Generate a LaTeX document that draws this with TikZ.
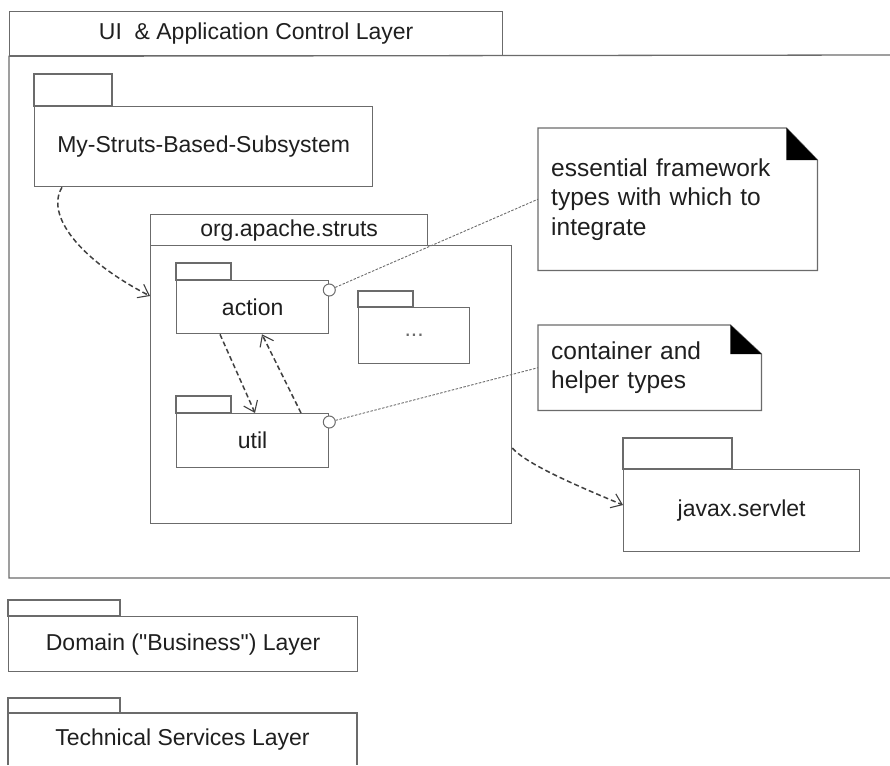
\documentclass[tikz,border=0pt]{standalone}
\usepackage{fontspec}
\setmainfont{Liberation Sans}
\newfontfamily\rawfont{Liberation Sans}
\usetikzlibrary{arrows.meta,calc}
\definecolor{lncol}{gray}{0.42}
\definecolor{txcol}{gray}{0.12}
\definecolor{depcol}{gray}{0.25}
\begin{document}
\begin{tikzpicture}[x=1pt,y=-1pt,
  ln/.style={draw=lncol, line width=1.3pt},
  pkg/.style={draw=lncol, line width=1.3pt, rectangle, inner sep=0pt, anchor=north west,
     text=txcol, font=\fontsize{23}{27.6}\selectfont},
  notebox/.style={rectangle, inner ysep=0pt, inner xsep=13pt, anchor=north west, align=left,
     text=txcol, font=\fontsize{24.5}{29.5}\selectfont},
  anchorcirc/.style={circle, draw=lncol, line width=1pt, fill=white, minimum size=12pt, inner sep=0pt},
  noteline/.style={draw=lncol, line width=0.9pt, dash pattern=on 2.5pt off 1.5pt},
  dep/.style={draw=depcol, line width=1.5pt, dash pattern=on 5pt off 3pt,
     -{Straight Barb[length=10pt,width=15pt,line width=1.1pt]}}
]
\useasboundingbox (0,0) rectangle (890,765);

% UI layer
\node[pkg, minimum width=493pt, minimum height=44pt] (uitab) at (9,11) {UI\ \ \& Application Control Layer};
\coordinate (uiBL) at (9,578);
\coordinate (uiBR) at (890,578);
\coordinate (uiTR) at (890,55);
\draw[ln] (uiTR) -- (uitab.south west) -- (uiBL) -- (uiBR);

% My-Struts-Based-Subsystem
\node[pkg, minimum width=338pt, minimum height=80pt] (mysb) at (34,106) {My-Struts-Based-Subsystem};
\draw[ln] (mysb.north west) rectangle ++(78,-32);

% org.apache.struts
\node[pkg, minimum width=277pt, minimum height=31pt] (oastab) at (150,214) {org.apache.struts};
\node[pkg, minimum width=361pt, minimum height=278pt] (oas) at (150,245) {};

% action
\node[pkg, minimum width=152pt, minimum height=53pt] (action) at (176,280) {action};
\draw[ln] (action.north west) rectangle ++(55,-17);

% ...
\node[pkg, minimum width=111pt, minimum height=56pt, text=lncol] (dots) at (358,307) {...};
\draw[ln] (dots.north west) rectangle ++(55,-16);

% util
\node[pkg, minimum width=152pt, minimum height=54pt] (util) at (176,413) {util};
\draw[ln] (util.north west) rectangle ++(55,-17);

% javax.servlet
\node[pkg, minimum width=236pt, minimum height=82pt] (javax) at (623,469) {javax.servlet};
\draw[ln] (javax.north west) rectangle ++(109,-31);

% Domain layer
\node[pkg, minimum width=349pt, minimum height=55pt] (domain) at (8,616) {\rawfont Domain ("Business") Layer};
\draw[ln] (domain.north west) rectangle ++(112,-16);

% Technical services layer (cut off at bottom)
\coordinate (tsBL) at (8,765);
\coordinate (tsTL) at (8,713);
\coordinate (tsTR) at (357,713);
\coordinate (tsBR) at (357,765);
\draw[ln] (tsBL) -- (tsTL) -- (tsTR) -- (tsBR);
\draw[ln] (tsTL) rectangle ++(112,-15);
\node[text=txcol, font=\fontsize{23}{27.6}\selectfont, inner sep=0pt] (tech) at (182.5,740) {Technical Services Layer};

% Notes
\node[notebox, minimum width=279pt, minimum height=142pt, text width=253pt] (note1) at (538,128)
  {essential framework\\types with which to\\integrate};
\draw[ln] (note1.north west) -- ([xshift=-31pt]note1.north east) -- ([yshift=-32pt]note1.north east)
  -- (note1.south east) -- (note1.south west) -- cycle;
\fill[black] ([xshift=-31pt]note1.north east) -- ([yshift=-32pt]note1.north east)
  -- ([xshift=-31pt,yshift=-32pt]note1.north east) -- cycle;

\node[notebox, minimum width=223pt, minimum height=85pt, text width=197pt] (note2) at (538,325)
  {container and\\helper types};
\draw[ln] (note2.north west) -- ([xshift=-31pt]note2.north east) -- ([yshift=-29pt]note2.north east)
  -- (note2.south east) -- (note2.south west) -- cycle;
\fill[black] ([xshift=-31pt]note2.north east) -- ([yshift=-29pt]note2.north east)
  -- ([xshift=-31pt,yshift=-29pt]note2.north east) -- cycle;

% anchor circles and note lines
\node[anchorcirc] (c1) at ([yshift=-10pt]action.north east) {};
\node[anchorcirc] (c2) at ([yshift=-9pt]util.north east) {};
\draw[noteline] (c1) -- (note1.west);
\draw[noteline] (c2) -- (note2.west);

% dependencies
\draw[dep] ([xshift=28pt]mysb.south west) .. controls +(-17,28) and +(-70,-36) .. ([yshift=-51pt]oas.north west);
\draw[dep] ([xshift=44pt]action.south west) -- ([xshift=79pt]util.north west);
\draw[dep] ([xshift=125pt]util.north west) -- ([xshift=86pt]action.south west);
\draw[dep] ([yshift=-203pt]oas.north east) .. controls +(14,16) and +(-48,-20) .. ([yshift=-36pt]javax.north west);
\end{tikzpicture}
\end{document}
